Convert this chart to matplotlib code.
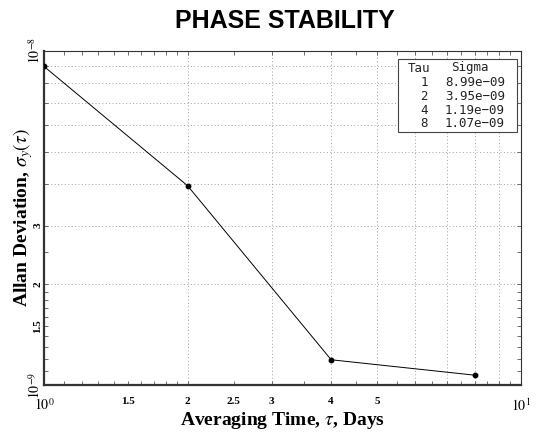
import matplotlib
matplotlib.use("Agg")
import matplotlib.pyplot as plt
from matplotlib.ticker import FixedLocator, FixedFormatter, NullFormatter
from matplotlib.patches import Rectangle

tau = [1, 2, 4, 8]
sigma = [8.99e-9, 3.95e-9, 1.19e-9, 1.07e-9]
sigma_labels = ["8.99e\u221209", "3.95e\u221209", "1.19e\u221209", "1.07e\u221209"]

x_label_vals = [1, 1.5, 2, 2.5, 3, 4, 5, 10]
x_label_txt = [r"$10^0$", "1.5", "2", "2.5", "3", "4", "5", r"$10^1$"]
x_grid = [2, 3, 4, 5, 6, 7, 8, 9]
x_minor = [1.1, 1.2, 1.3, 1.4, 1.6, 1.7, 1.8, 1.9, 2.5, 3.5, 4.5, 5.5, 6.5, 7.5, 8.5, 9.5]

y_label_vals = [1e-9, 1.5e-9, 2e-9, 3e-9, 1e-8]
y_label_txt = [r"$10^{-9}$", "1.5", "2", "3", r"$10^{-8}$"]
y_grid = [2e-9, 3e-9, 4e-9, 5e-9, 6e-9, 7e-9, 8e-9, 9e-9]
y_minor = [1.1e-9, 1.2e-9, 1.3e-9, 1.4e-9, 1.6e-9, 1.7e-9, 1.8e-9, 1.9e-9, 2.5e-9]

plt.rcParams["mathtext.fontset"] = "stix"

fig = plt.figure(figsize=(5.37, 4.32), dpi=100)
ax = fig.add_axes([44/537, 1-385/432, (521-44)/537, (385-51)/432])
ax.set_xscale("log")
ax.set_yscale("log")
ax.set_xlim(1, 10)
ax.set_ylim(1e-9, 1e-8)

for xv in x_grid:
    ax.axvline(xv, color="#a0a0a0", lw=0.7, ls=(0, (1, 2.5)), zorder=0)
for yv in y_grid:
    ax.axhline(yv, color="#a0a0a0", lw=0.7, ls=(0, (1, 2.5)), zorder=0)

ax.plot(tau, sigma, color="black", lw=0.7, marker="o", ms=3.2, zorder=3)

ax.xaxis.set_major_locator(FixedLocator(x_label_vals))
ax.xaxis.set_major_formatter(FixedFormatter(x_label_txt))
ax.xaxis.set_minor_locator(FixedLocator(x_minor + x_grid))
ax.xaxis.set_minor_formatter(NullFormatter())
ax.yaxis.set_major_locator(FixedLocator(y_label_vals))
ax.yaxis.set_major_formatter(FixedFormatter(y_label_txt))
ax.yaxis.set_minor_locator(FixedLocator(y_minor + y_grid))
ax.yaxis.set_minor_formatter(NullFormatter())

ax.tick_params(which="both", direction="in", top=True, right=True, length=3, width=0.6, color="#555555")
ax.tick_params(axis="x", which="major", labelsize=8, pad=9)
ax.tick_params(axis="y", which="major", labelsize=8, pad=1)
for lab in ax.get_xticklabels():
    lab.set_fontfamily("Liberation Serif")
    lab.set_fontweight("bold")
for lab in ax.get_yticklabels():
    lab.set_fontfamily("Liberation Serif")
    lab.set_fontweight("bold")
    lab.set_rotation(90)
    lab.set_va("center")
ax.get_xticklabels()[0].set_fontsize(10)
ax.get_xticklabels()[-1].set_fontsize(10)
ax.get_yticklabels()[0].set_fontsize(10)
ax.get_yticklabels()[-1].set_fontsize(10)

ax.spines["bottom"].set_linewidth(1.6)
ax.spines["left"].set_linewidth(1.6)
ax.spines["top"].set_linewidth(0.8)
ax.spines["right"].set_linewidth(0.8)
for s in ax.spines.values():
    s.set_color("#333333")

ax.set_xlabel(r"Averaging Time, $\tau$, Days", fontfamily="Liberation Serif",
              fontweight="bold", fontsize=14, labelpad=-3)
ax.set_ylabel(r"Allan Deviation, $\sigma_y(\tau)$", fontfamily="Liberation Serif",
              fontweight="bold", fontsize=14, labelpad=-6)

fig.text(285/537, 1-21/432, "PHASE STABILITY", ha="center", va="center",
         fontfamily="Liberation Sans", fontweight="bold", fontsize=18)

# table box
box = Rectangle((398/537, 1-132/432), (517-398)/537, (132-59)/432, transform=fig.transFigure,
                facecolor="white", edgecolor="#444444", lw=0.8, zorder=5)
fig.patches.append(box)
mono = "DejaVu Sans Mono"
tc = "#222222"
fig.text(408/537, 1-68/432, "Tau", ha="left", va="center", fontfamily=mono, fontsize=9, color=tc, zorder=6)
fig.text(451/537, 1-68/432, "Sigma", ha="left", va="center", fontfamily=mono, fontsize=9, color=tc, zorder=6)
for i, (t, s) in enumerate(zip(tau, sigma_labels)):
    yy = 1 - (83 + i * 13.5) / 432
    fig.text(428/537, yy, str(t), ha="right", va="center", fontfamily=mono, fontsize=9, color=tc, zorder=6)
    fig.text(445/537, yy, s, ha="left", va="center", fontfamily=mono, fontsize=9, color=tc, zorder=6)

fig.savefig("out.png", dpi=100)
